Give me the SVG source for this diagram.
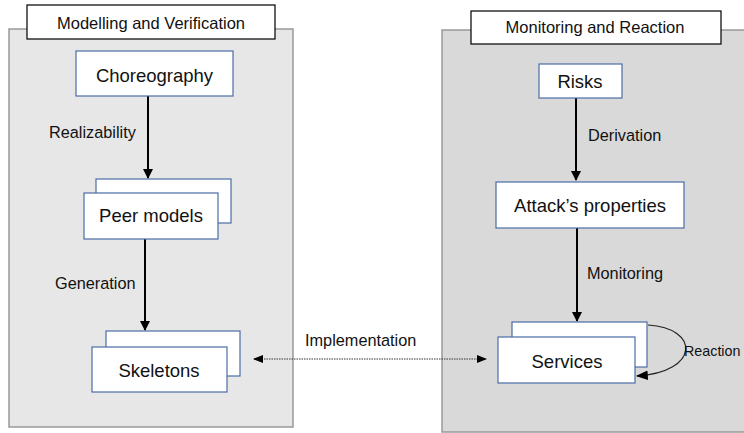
<svg xmlns="http://www.w3.org/2000/svg" width="744" height="433" viewBox="0 0 744 433">
<style>
text{font-family:"Liberation Sans",Arial,sans-serif;fill:#111}
.node{font-size:18.5px;text-anchor:middle}
.lbl{font-size:16.3px}
.ttl{font-size:16.5px;text-anchor:middle}
.box{fill:#fff;stroke:#4a6da6;stroke-width:1.2}
.tbox{fill:#fff;stroke:#111;stroke-width:1.3}
.arr{stroke:#000;stroke-width:2;fill:none}
</style>
<defs>
<marker id="ah" viewBox="0 0 10 10" refX="9" refY="5" markerWidth="5" markerHeight="5" orient="auto-start-reverse" markerUnits="strokeWidth"><path d="M0,0L10,5L0,10z" fill="#000"/></marker>
<marker id="ahs" viewBox="0 0 10 10" refX="9" refY="5" markerWidth="10" markerHeight="10" orient="auto-start-reverse" markerUnits="strokeWidth"><path d="M0,1L10,5L0,9z" fill="#000"/></marker>
</defs>
<rect width="744" height="433" fill="#fff"/>
<g id="panel-left">
<rect x="9" y="29" width="284" height="398" fill="#e7e7e7" stroke="#999" stroke-width="1.5"/>
<rect class="tbox" x="27" y="5" width="248" height="34"/>
<text class="ttl" x="151" y="29">Modelling and Verification</text>
</g>
<g id="panel-right">
<rect x="442" y="30" width="310" height="402" fill="#d9d9d9" stroke="#999" stroke-width="1.5"/>
<rect class="tbox" x="471" y="11" width="250" height="33"/>
<text class="ttl" x="595" y="33">Monitoring and Reaction</text>
</g>
<g id="connectors">
<line class="arr" x1="148" y1="96" x2="148" y2="178" marker-end="url(#ah)"/>
<line class="arr" x1="145" y1="239" x2="145" y2="330" marker-end="url(#ah)"/>
<line class="arr" x1="576" y1="98" x2="576" y2="180" marker-end="url(#ah)"/>
<line class="arr" x1="577" y1="228" x2="577" y2="321" marker-end="url(#ah)"/>
<line x1="254" y1="359" x2="486" y2="359" stroke="#333" stroke-width="1" stroke-dasharray="1.5,1" marker-start="url(#ahs)" marker-end="url(#ahs)"/>
<path d="M648,325 C700,328 700,372 637,376" fill="none" stroke="#222" stroke-width="1.2" marker-end="url(#ahs)"/>
<text class="lbl" x="49" y="138">Realizability</text>
<text class="lbl" x="55" y="289">Generation</text>
<text class="lbl" x="305" y="346">Implementation</text>
<text class="lbl" x="588" y="141">Derivation</text>
<text class="lbl" x="587" y="279">Monitoring</text>
<text x="684" y="356" style="font-size:14.3px">Reaction</text>
</g>
<g id="choreography">
<rect class="box" x="76" y="51" width="157" height="45"/>
<text class="node" x="154.5" y="82">Choreography</text>
</g>
<g id="peer-models">
<rect class="box" x="96" y="179" width="135" height="44"/>
<rect class="box" x="84" y="193" width="134" height="46"/>
<text class="node" x="151" y="222">Peer models</text>
</g>
<g id="skeletons">
<rect class="box" x="106" y="331" width="134" height="45"/>
<rect class="box" x="92" y="347" width="135" height="45"/>
<text class="node" x="159" y="377">Skeletons</text>
</g>
<g id="risks">
<rect class="box" x="539" y="64" width="83" height="34"/>
<text class="node" x="580" y="88">Risks</text>
</g>
<g id="attacks-properties">
<rect class="box" x="496" y="182" width="188" height="46"/>
<text class="node" x="590" y="212">Attack’s properties</text>
</g>
<g id="services">
<rect class="box" x="512" y="322" width="135" height="45"/>
<rect class="box" x="498" y="337" width="137" height="46"/>
<text class="node" x="567" y="368">Services</text>
</g>
</svg>
